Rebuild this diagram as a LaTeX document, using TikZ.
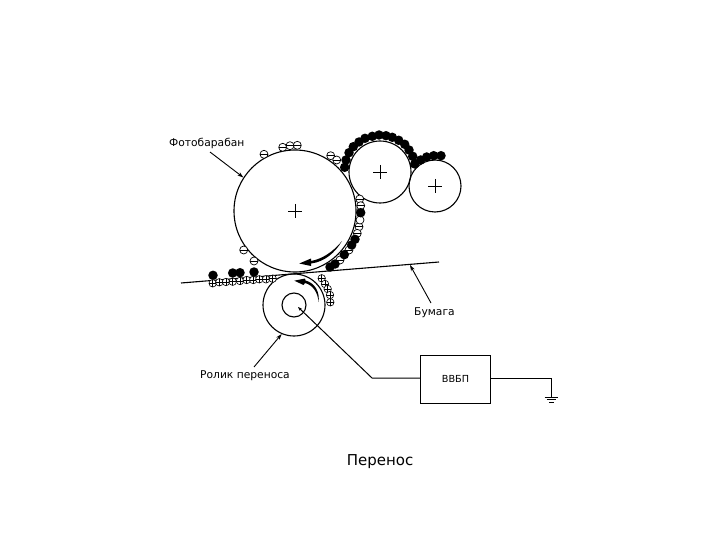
\documentclass[tikz,border=0pt]{standalone}
\usepackage{fontspec}
\setmainfont{DejaVu Sans}
\usetikzlibrary{arrows.meta,positioning}
\tikzset{
  drum/.style={circle,draw,line width=1.1pt,inner sep=0pt,minimum size=#1},
  tonerblack/.style={circle,fill=black,inner sep=0pt,minimum size=9.5pt},
  chargeminus/.style={circle,draw,fill=white,line width=.7pt,inner sep=0pt,minimum size=8pt,
    path picture={\draw[line width=.7pt](path picture bounding box.west)--(path picture bounding box.east);}},
  chargeplus/.style={circle,draw,fill=white,line width=.6pt,inner sep=0pt,minimum size=7.5pt,
    path picture={\draw[line width=.6pt](path picture bounding box.west)--(path picture bounding box.east)
      (path picture bounding box.north)--(path picture bounding box.south);}},
  chargenone/.style={circle,draw,fill=white,line width=.7pt,inner sep=0pt,minimum size=8pt},
  leader/.style={line width=.9pt,-{Stealth[length=6pt,width=4pt]}},
  wire/.style={line width=1pt},
  caption/.style={font=\fontsize{10.7}{12}\selectfont,inner sep=0pt}
}
\begin{document}
\begin{tikzpicture}[x=1pt,y=-1pt]
        \useasboundingbox(0,0)rectangle(720,540);
        \node[drum=122pt](photoDrum)at(295,211){};
        \node[drum=62pt](devDrum)at(380,172){};
        \node[drum=52pt](feedDrum)at(435,186){};
        \node[drum=62pt](transferRoller)at(294,305){};
        \node[drum=24pt](rollerHub)at(294,305){};
        \foreach \cx/\cy/\s in {295/211/7,380/172/7,435/186/7}
          \draw[line width=.7pt](\cx-\s,\cy)--(\cx+\s,\cy)(\cx,\cy-\s)--(\cx,\cy+\s);
        \coordinate(paperL)at(181,283);
        \coordinate(paperR)at(439,262);
        \coordinate(paperHit)at(410,265);
        \draw[line width=1.1pt](paperL)--(paperR);
        \foreach \x/\y[count=\i] in {282.7/147.3,290/145.7,297.3/145.3,264/154.3,243.7/250,254/261,330.7/155.7,336.7/160,359.7/199,360.7/205.7,359/226.7,357.3/233.3,349/250,340/260}
          \node[chargeminus](minus\i)at(\x,\y){};
        \node[chargenone](blank1)at(360,220){};
        \foreach \x/\y[count=\i] in {344.7/167.3,346/160,349/152.7,353.3/146.7,359/142,365/138.3,372.3/136.3,379/135,386/135.7,392.3/137.3,398.7/140.3,404.7/144.3,409/150,412.7/156.3,414.7/164,420.7/160,426.7/157,433.7/155.7,441/155.7,360.7/212.7,355/239.3,351.7/245,344.3/254.7,335/264,330/267,213/275.3,232.7/273,240/272.7,254/272}
          \node[tonerblack](toner\i)at(\x,\y){};
        \foreach \x/\y[count=\i] in {212.7/283.3,219.3/282.3,226/282,232.7/281.7,240/281,246.7/280,253.3/280,259.3/279.3,266/279.3,272.7/278.7,321.7/278.3,325/284,327.7/289,330/295,330.3/302.3}
          \node[chargeplus](plus\i)at(\x,\y){};
        \fill(342,241)..controls(333,252)and(322,259)..(311,261)--(311,258.5)--(299.3,263.5)--(311,266)--(311,263.5)..controls(324,262)and(335,253)..cycle;
        \fill(318.5,302)..controls(318,293)and(313,285)..(305,283)--(303.5,285)--(294.3,280.7)--(305,278.5)--(305.5,280.5)..controls(315,283)and(320,292)..cycle;
        \node[caption,anchor=west](photoLabel)at(169,143){Фотобарабан};
        \node[caption,anchor=west](rollerLabel)at(200,376){Ролик переноса};
        \node[caption,anchor=west](paperLabel)at(414,312.5){Бумага};
        \node[draw,line width=1pt,minimum width=69.5pt,minimum height=48pt,inner sep=0pt,font=\fontsize{9.7}{11}\selectfont](hvps)at(455.5,379){ВВБП};
        \node[font=\fontsize{15}{18}\selectfont,inner sep=0pt](title)at(380,462){Перенос};
        \coordinate(photoTail)at(210,152);
        \coordinate(rollerTail)at(254,367);
        \coordinate(paperTail)at(431,303);
        \draw[leader](photoTail)--(photoDrum.147);
        \draw[leader](rollerTail)--(transferRoller.247);
        \draw[leader](paperTail)--(paperHit);
        \coordinate(wireStart)at(298,307);
        \coordinate(wireBend)at(372,378);
        \coordinate(groundTop)at(551,378);
        \coordinate(groundEnd)at(551,397);
        \draw[wire,{Stealth[length=4pt,width=3pt]}-](wireStart)--(wireBend)--(hvps.west|-wireBend);
        \draw[wire](hvps.east|-wireBend)--(groundTop)--(groundEnd);
        \draw[wire](544.5,397)--(558,397)(546.5,399.7)--(556,399.7)(549,402.3)--(553.5,402.3);
      \end{tikzpicture}
\end{document}
